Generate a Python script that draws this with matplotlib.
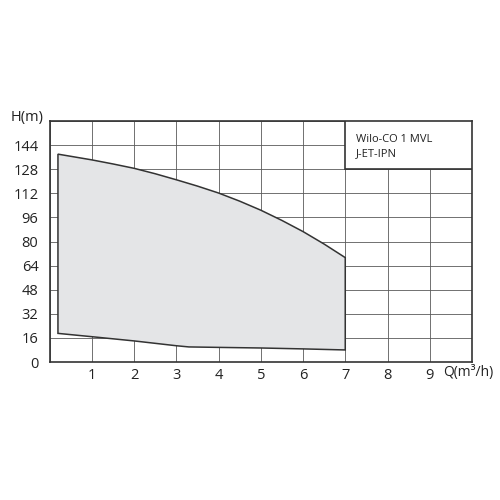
import numpy as np
import matplotlib.pyplot as plt
from matplotlib.patches import Rectangle

# upper (max) curve and lower (min) curve of the operating field
q_upper = [0.2, 1, 1.5, 2, 2.5, 3, 3.5, 4, 4.5, 5, 5.5, 6, 6.5, 7.0]
h_upper = [138, 134.2, 131.5, 128.6, 125, 121, 116.8, 112.2, 106.8, 100.8, 94, 86.6, 78.3, 69.3]
q_lower = [0.2, 1, 2, 3, 3.3, 4, 5, 6, 7.0]
h_lower = [19, 16.8, 14, 10.8, 10, 9.7, 9.3, 8.7, 8.0]

x_ticks = [1, 2, 3, 4, 5, 6, 7, 8, 9]
y_ticks = [0, 16, 32, 48, 64, 80, 96, 112, 128, 144]
title_lines = ["Wilo-CO 1 MVL", "J-ET-IPN"]

plt.rcParams['font.family'] = ['Open Sans', 'DejaVu Sans']

fig = plt.figure(figsize=(5, 5), dpi=100)
ax = fig.add_axes([0.099, 0.276, 0.845, 0.482])

poly_q = q_upper + q_lower[::-1]
poly_h = h_upper + h_lower[::-1]
ax.fill(poly_q, poly_h, facecolor='#e4e5e7', edgecolor='#333333', linewidth=1.1, zorder=2)

ax.set_xlim(0, 10)
ax.set_ylim(0, 160)
ax.set_xticks(np.arange(0, 11, 1))
ax.set_yticks(np.arange(0, 161, 16))
ax.grid(True, color='#5a5a5a', linewidth=0.6, zorder=1)
ax.set_axisbelow(True)

ax.set_xticklabels([''] + [str(v) for v in x_ticks] + [''])
ax.set_yticklabels([str(v) for v in y_ticks] + [''])
ax.tick_params(length=0, labelsize=10.5, colors='#222222')
ax.tick_params(axis='x', pad=4)
ax.tick_params(axis='y', pad=8)
for sp in ax.spines.values():
    sp.set_color('#333333')
    sp.set_linewidth(1.2)

# label box in the top right corner
ax.add_patch(Rectangle((7, 128), 3, 32, facecolor='white', edgecolor='#333333',
                       linewidth=1.2, zorder=3))
ax.text(7.26, 147.7, title_lines[0], fontsize=8, va='center', ha='left', color='#222222', zorder=4)
ax.text(7.26, 138.6, title_lines[1], fontsize=8, va='center', ha='left', color='#222222', zorder=4)

ax.text(-0.15, 162, "H(m)", fontsize=10.5, ha='right', va='center', color='#222222')
ax.text(9.32, -7.3, "Q(m³/h)", fontsize=10, ha='left', va='center', color='#222222')

fig.savefig("out.png", dpi=100)
plt.close(fig)
